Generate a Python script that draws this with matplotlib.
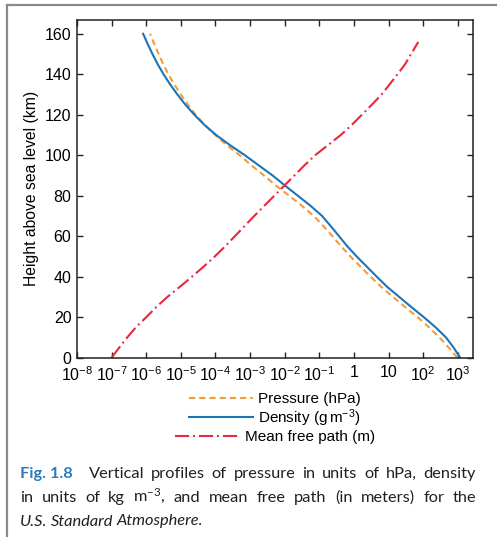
import numpy as np
import matplotlib.pyplot as plt
from matplotlib.lines import Line2D
from matplotlib.ticker import NullLocator

# alturas (km) cada 5 km y log10 de cada perfil
h = np.arange(0, 165, 5)
logp = [2.99, 2.74, 2.47, 2.17, 1.84, 1.48, 1.13, 0.79, 0.48, 0.19, -0.10,
        -0.37, -0.62, -0.88, -1.16, -1.50, -1.87, -2.25, -2.60, -2.96, -3.30,
        -3.67, -4.01, -4.31, -4.57, -4.80, -5.00, -5.19, -5.36, -5.51, -5.64,
        -5.77, -5.89]
logd = [3.07, 2.88, 2.66, 2.36, 2.02, 1.66, 1.31, 0.96, 0.66, 0.37, 0.08,
        -0.19, -0.43, -0.67, -0.92, -1.25, -1.62, -1.99, -2.35, -2.75, -3.15,
        -3.58, -3.98, -4.32, -4.61, -4.87, -5.10, -5.31, -5.50, -5.67, -5.82,
        -5.96, -6.09]

h_mfp = [0, 5, 10, 15, 20, 25, 30, 35, 40, 45, 50, 55, 60, 65, 70, 75, 80, 85,
         90, 95, 100, 105, 110, 115, 120, 125, 130, 135, 140, 145, 150, 156]
logm = [-7.0, -6.78, -6.55, -6.30, -6.0, -5.71, -5.39, -5.03, -4.68, -4.34,
        -4.02, -3.72, -3.44, -3.16, -2.88, -2.59, -2.30, -2.01, -1.72, -1.43,
        -1.12, -0.75, -0.38, -0.06, 0.23, 0.52, 0.80, 1.03, 1.26, 1.48, 1.65, 1.86]

xticks_exp = np.arange(-8, 4)
xlabels = [r'$\mathregular{10^{-8}}$', r'$\mathregular{10^{-7}}$', r'$\mathregular{10^{-6}}$',
           r'$\mathregular{10^{-5}}$', r'$\mathregular{10^{-4}}$', r'$\mathregular{10^{-3}}$',
           r'$\mathregular{10^{-2}}$', r'$\mathregular{10^{-1}}$', '1', '10',
           r'$\mathregular{10^{2}}$', r'$\mathregular{10^{3}}$']
yticks = [0, 20, 40, 60, 80, 100, 120, 140, 160]

c_pres = '#f59b3c'
c_dens = '#1b75bb'
c_mfp = '#e8283c'

plt.rcParams['font.family'] = 'Liberation Sans'
plt.rcParams['mathtext.default'] = 'regular'

W, H = 497, 537
fig = plt.figure(figsize=(W/100, H/100), dpi=100)

def fx(px):
    return px / W

def fy(py):
    return 1 - py / H

ax = fig.add_axes([fx(77), fy(357.7), fx(473) - fx(77), fy(20) - fy(357.7)])
ax.set_xscale('log')

lp, = ax.plot(10.0**np.array(logp), h, color=c_pres, lw=1.5, label='Pressure (hPa)')
lp.set_dashes((3.0, 1.9))
ld, = ax.plot(10.0**np.array(logd), h, color=c_dens, lw=1.5,
              label=r'Density ($\mathregular{g\,m^{-3}}$)')
lm, = ax.plot(10.0**np.array(logm), h_mfp, color=c_mfp, lw=1.5, label='Mean free path (m)')
lm.set_dashes((6.8, 1.9, 0.9, 1.9))

ax.set_xlim(1e-8, 10**3.44)
ax.set_ylim(0, 166.8)
ax.set_xticks(10.0**xticks_exp)
ax.set_xticklabels(xlabels)
ax.xaxis.set_minor_locator(NullLocator())
ax.set_yticks(yticks)
ax.tick_params(which='both', direction='in', top=True, right=True, length=4,
               width=1, labelsize=11.5, pad=4, color='#222222')
ax.tick_params(axis='x', pad=5.5)
for s in ax.spines.values():
    s.set_color('#222222')
    s.set_linewidth(1.1)
ax.set_ylabel('Height above sea level (km)', fontsize=11.3, labelpad=4)

# cada fila de la leyenda centrada por separado, como en el original
for handle, yrow in zip([lp, ld, lm], [399, 418, 437]):
    fig.legend(handles=[handle], loc='center', bbox_to_anchor=(fx(275), fy(yrow)),
               frameon=False, fontsize=11, handlelength=4.2, handletextpad=0.35,
               borderpad=0)

# marco gris del recuadro
fig.add_artist(Line2D([fx(7), 1], [fy(5), fy(5)], color='#8a8a8a', lw=1.6))
fig.add_artist(Line2D([fx(7), fx(7)], [fy(5), 0], color='#8a8a8a', lw=1.6))

# pie de figura justificado
renderer = fig.canvas.get_renderer()
cap_font = 'Lato'
blue = '#2c7bbf'

def linea(items, y, x0, x1, justify=True):
    texts = []
    widths = []
    for s, kw in items:
        opts = dict(va='baseline', ha='left', fontsize=11.8, family=cap_font, color='#231f20')
        opts.update(kw)
        t = fig.text(0, fy(y), s, **opts)
        texts.append(t)
        widths.append(t.get_window_extent(renderer).width)
    extra = [0] * len(items)
    if items[0][0].startswith('Fig'):
        extra[0] = 9
    if justify:
        gap = (x1 - x0 - sum(widths) - sum(extra)) / (len(items) - 1)
    else:
        gap = 3.6
    x = x0
    for t, w, e in zip(texts, widths, extra):
        t.set_x(fx(x))
        x += w + e + gap

linea([('Fig. 1.8', dict(color=blue, weight='bold'))] +
      [(w, {}) for w in 'Vertical profiles of pressure in units of hPa, density'.split()],
      478.3, 20, 476)
linea([(w, {}) for w in ['in', 'units', 'of', 'kg', r'm$\mathregular{^{-3}}$,', 'and', 'mean',
                         'free', 'path', '(in', 'meters)', 'for', 'the']],
      501.7, 20, 476)
linea([(w, dict(style='italic')) for w in ['U.S.', 'Standard', 'Atmosphere.']],
      525.5, 20, 476, justify=False)

fig.savefig('out.png', dpi=100)
